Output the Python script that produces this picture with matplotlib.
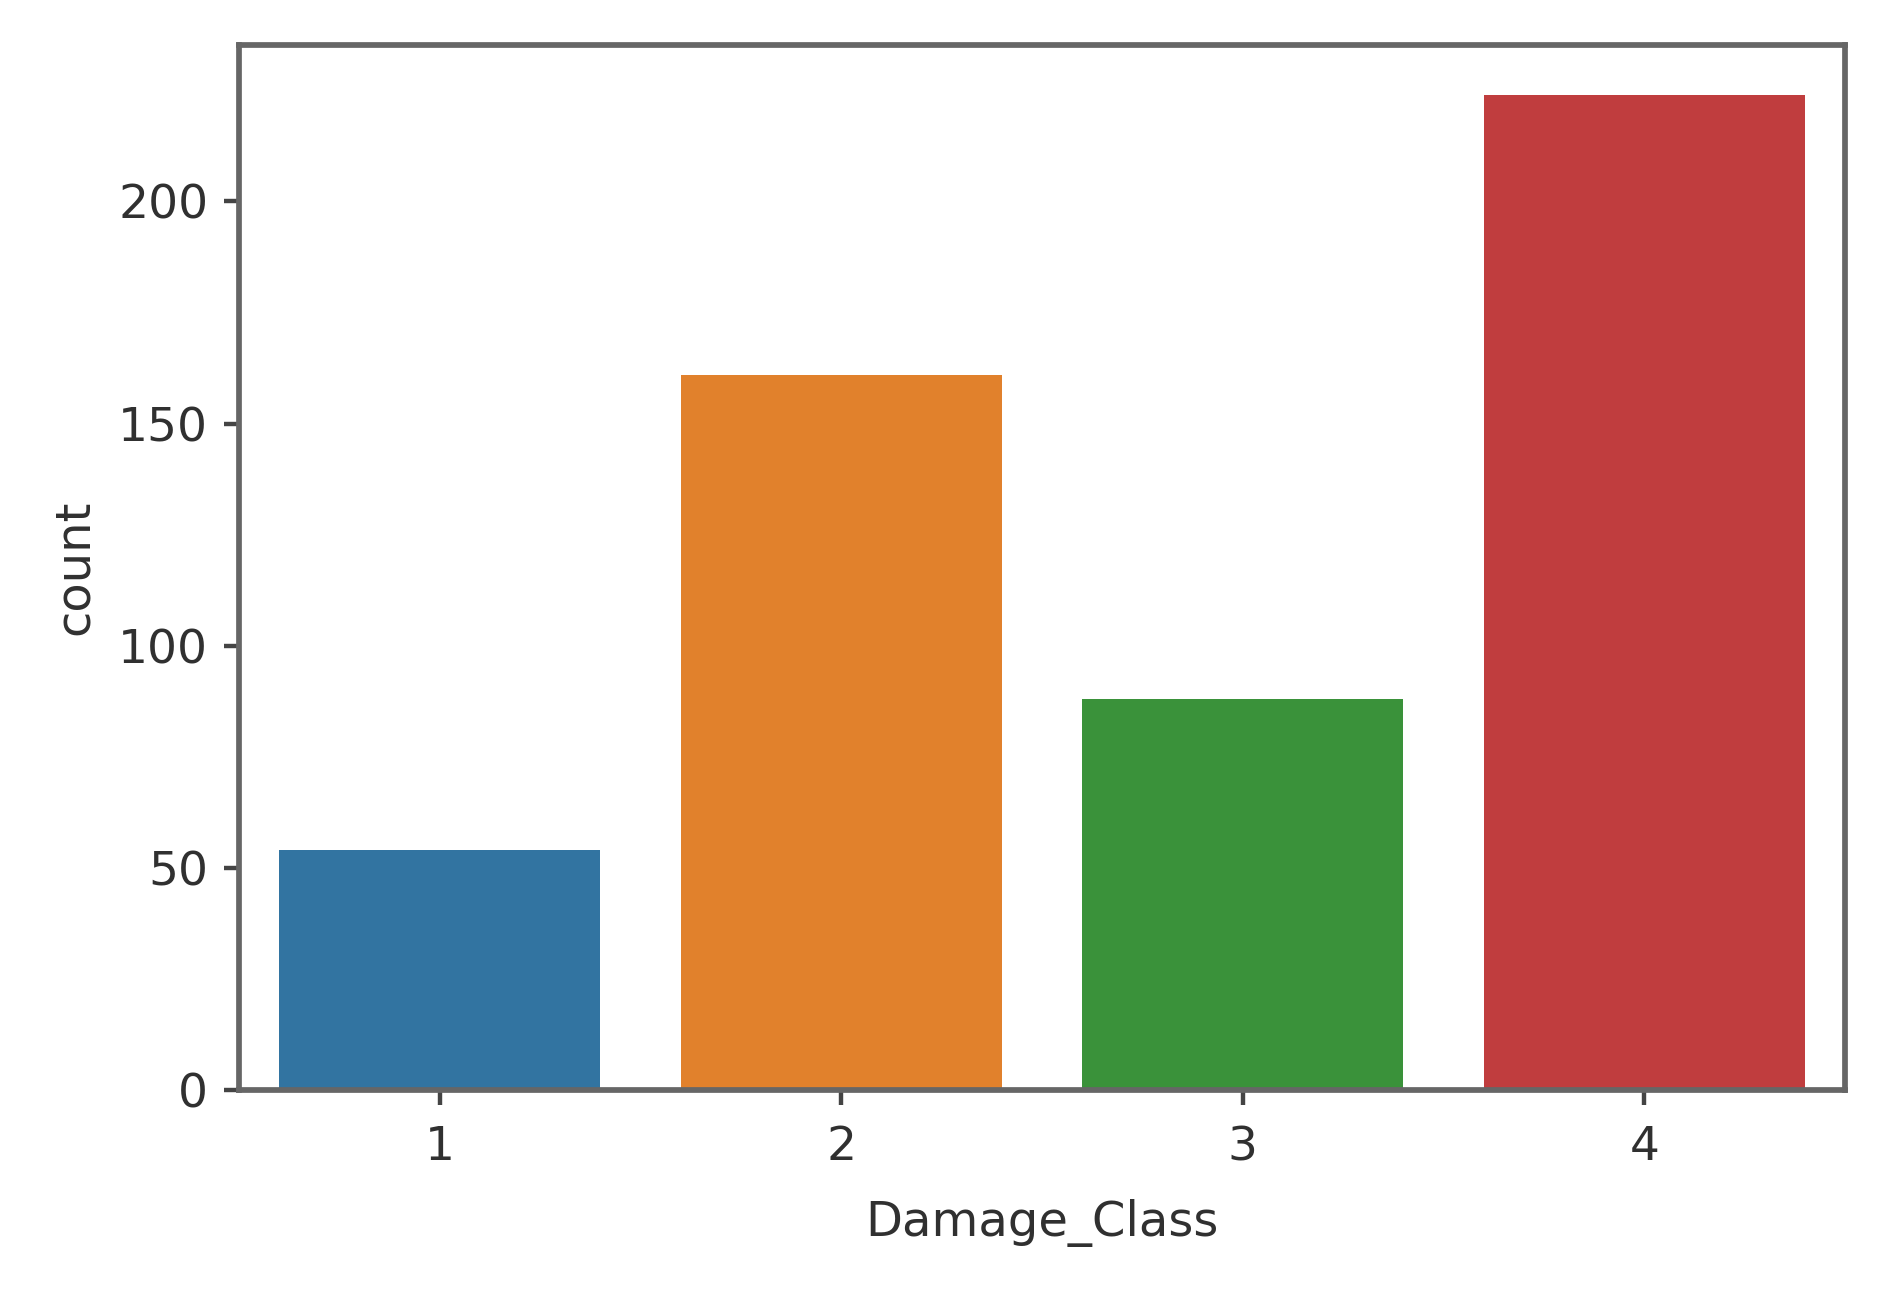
import matplotlib
matplotlib.use("Agg")
import matplotlib.pyplot as plt

categories = ["1", "2", "3", "4"]
counts = [54, 161, 88, 224]
colors = ["#3274a1", "#e1812c", "#3a923a", "#c03d3e"]
yticks = [0, 50, 100, 150, 200]

DPI = 317.2
fig = plt.figure(figsize=(1903 / DPI, 1290 / DPI), dpi=DPI)
ax = fig.add_axes([0.1256, 0.155, 0.9695 - 0.1256, 0.9651 - 0.155])

x = list(range(len(categories)))
ax.bar(x, counts, width=0.8, color=colors, edgecolor="none")
ax.set_xlim(-0.5, len(categories) - 0.5)
ax.set_ylim(0, max(counts) * 1.05)
ax.set_xticks(x)
ax.set_xticklabels(categories)
ax.set_yticks(yticks)

txt = "#303030"
ax.tick_params(axis="both", labelsize=10.7, colors="#444444", labelcolor=txt,
               length=3.5, width=1.0)
ax.tick_params(axis="x", pad=4.5)
for s in ax.spines.values():
    s.set_color("#666666")
    s.set_linewidth(1.3)
ax.set_xlabel("Damage_Class", fontsize=10.9, color=txt, labelpad=6.5)
ax.set_ylabel("count", fontsize=10.9, color=txt, labelpad=4.5)

fig.savefig("out.png", dpi=DPI)
